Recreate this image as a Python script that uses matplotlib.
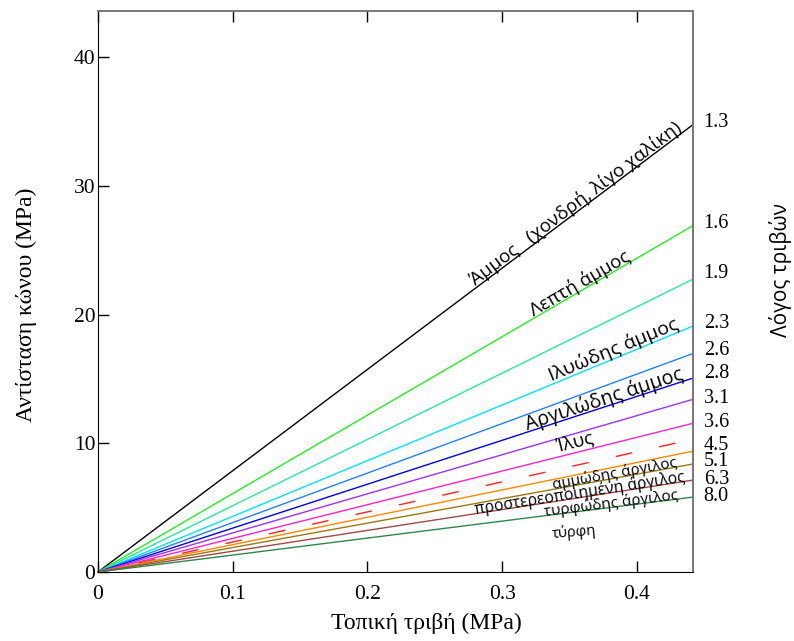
import numpy as np
import matplotlib.pyplot as plt
from matplotlib import transforms

# friction ratio (%) for each boundary line: qc = fs / (Rf / 100)
friction_ratio = [1.27, 1.64, 1.94, 2.31, 2.60, 2.93, 3.29, 3.82, 4.28, 4.70, 5.26, 6.18, 7.58]
line_colors = ['black', '#22ee22', '#22ee99', '#00e5f0', '#2080ff', '#0000ee', '#9933ff',
               '#ff22cc', '#ff2020', '#ff8800', '#9a7a10', '#a04848', '#2a8a4a']
line_styles = ['-'] * 8 + [(2, (12, 20))] + ['-'] * 4

# ratio values written down the right-hand side
ratio_labels = ['1.3', '1.6', '1.9', '2.3', '2.6', '2.8', '3.1', '3.6', '4.5', '5.1', '6.3', '8.0']
ratio_label_y = [34.95, 27.1, 23.2, 19.3, 17.2, 15.4, 13.5, 11.65, 9.86, 8.62, 7.22, 5.9]

# soil type names and the line each one sits on
soil_names = ['Άμμος   (χονδρή, λίγο χαλίκη)', 'Λεπτή άμμος', 'Ιλυώδης άμμος',
              'Αργιλώδης άμμος', 'Ίλυς', 'αμμώδης άργιλος',
              'προστερεοποιημένη άργιλος', 'τυρφώδης άργιλος', 'τύρφη']
soil_line = [0, 1, 3, 5, 7, 10, 11, 12, 12]
# layout: x along the line, offset from line (pt), font size
soil_x = [0.358, 0.360, 0.385, 0.377, 0.356, 0.384, 0.358, 0.381, 0.352]
soil_off = [1, 1, 2, 1, 4, 0, 0, 0, -17]
soil_size = [13.6, 13.5, 14, 14.3, 13.5, 11, 11.3, 11, 10.5]

xmax, ymax = 0.4416, 43.6

serif = ['Liberation Serif', 'DejaVu Serif']
sans = ['Open Sans', 'DejaVu Sans']

fig = plt.figure(figsize=(7.94, 6.41), dpi=100)
ax = fig.add_axes([0.1234, 0.1076, 0.7494, 0.8752])
ax.set_xlim(0, xmax)
ax.set_ylim(0, ymax)

x = np.array([0, xmax])
for rf, c, ls in zip(friction_ratio, line_colors, line_styles):
    ax.plot(x, x * 100 / rf, color=c, lw=1.0, linestyle=ls, clip_on=False)

# soil names laid along their lines
for name, li, sx, off, fs in zip(soil_names, soil_line, soil_x, soil_off, soil_size):
    k = 100 / friction_ratio[li]
    p0 = ax.transData.transform((0, 0))
    p1 = ax.transData.transform((xmax, xmax * k))
    ang = np.degrees(np.arctan2(p1[1] - p0[1], p1[0] - p0[0]))
    if li == 12 and off < 0:
        ang -= 2.5
    nx = -np.sin(np.radians(ang)) * off
    ny = np.cos(np.radians(ang)) * off
    tr = transforms.offset_copy(ax.transData, fig=fig, x=nx, y=ny, units='points')
    ax.text(sx, sx * k, name, transform=tr, rotation=ang, rotation_mode='anchor',
            ha='center', va='baseline', fontsize=fs, family=sans)

for lab, yy in zip(ratio_labels, ratio_label_y):
    ax.text(1.018, yy, lab, transform=ax.get_yaxis_transform(), ha='left',
            va='center', fontsize=14.5, family=serif)

ax.set_xticks([0, 0.1, 0.2, 0.3, 0.4])
ax.set_xticklabels(['0', '0.1', '0.2', '0.3', '0.4'])
ax.set_yticks([0, 10, 20, 30, 40])
ax.tick_params(axis='x', direction='in', length=8, width=1, top=True, pad=9,
               labelsize=15.5)
ax.tick_params(axis='y', direction='in', length=8, width=1, right=False, pad=2,
               labelsize=15.5)
for lab in ax.get_xticklabels() + ax.get_yticklabels():
    lab.set_family(serif)

ax.spines['top'].set_color('#777777')
ax.spines['right'].set_color('#777777')
ax.spines['top'].set_linewidth(1.4)
ax.spines['right'].set_linewidth(1.4)

fig.text(426 / 794, 1 - 623 / 641, 'Τοπική τριβή (MPa)', ha='center', va='center',
         fontsize=17, family=serif)
fig.text(26 / 794, 1 - 305 / 641, 'Αντίσταση κώνου (MPa)', ha='center', va='center',
         rotation=90, fontsize=17, family=serif)
fig.text(780 / 794, 1 - 270 / 641, 'Λόγος τριβών', ha='center', va='center',
         rotation=90, fontsize=15, family=sans)

fig.savefig('out.png', dpi=100)
